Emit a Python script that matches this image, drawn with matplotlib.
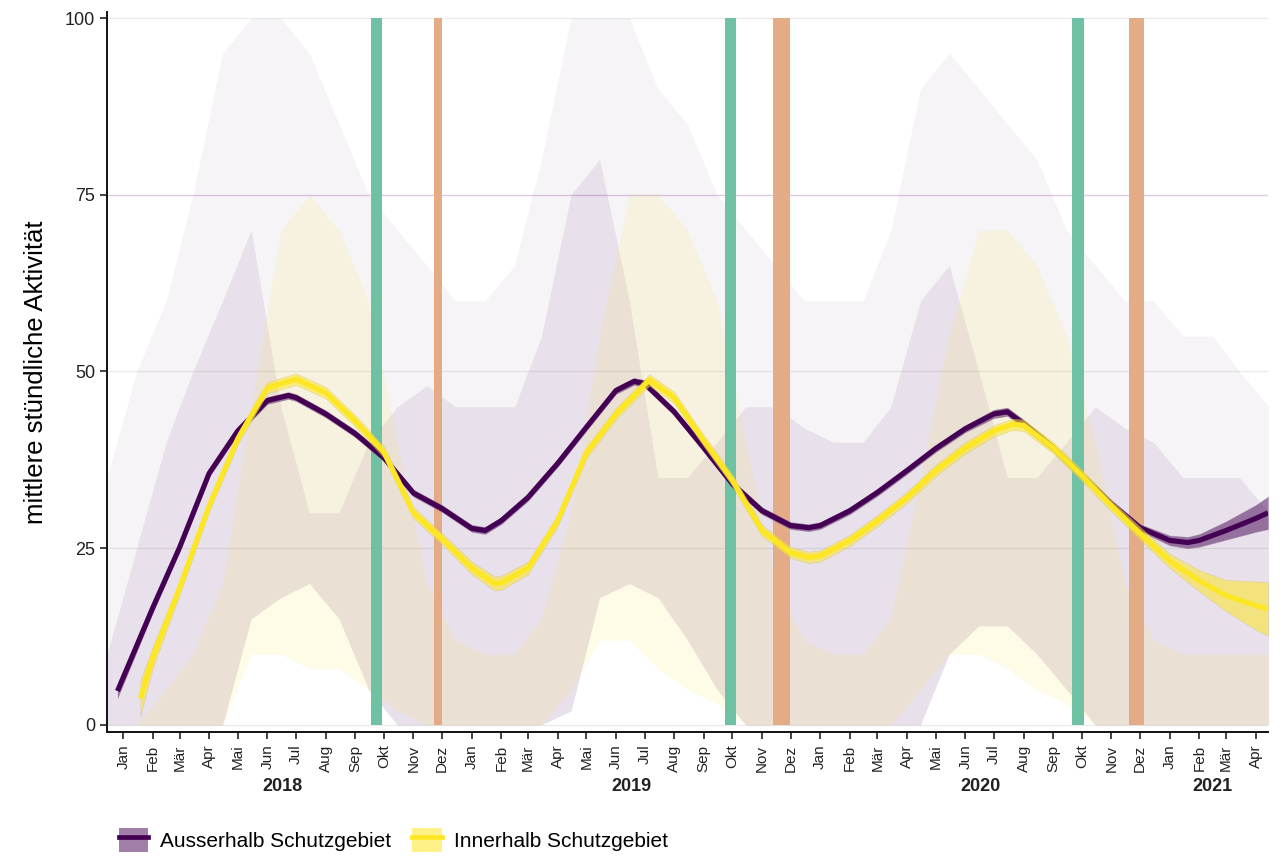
import numpy as np
import pandas as pd
import matplotlib
matplotlib.use("Agg")
import matplotlib.pyplot as plt
import matplotlib.dates as mdates
from matplotlib.patches import Patch
from matplotlib.lines import Line2D

plt.rcParams['font.family'] = ['Liberation Sans', 'DejaVu Sans']

# smoothed activity, outside the protected area
out_dates = ["2017-12-26", "2018-02-01", "2018-03-01", "2018-04-01", "2018-05-01", "2018-06-01",
             "2018-06-23", "2018-07-01", "2018-08-01", "2018-09-01", "2018-10-01", "2018-11-01",
             "2018-12-01", "2019-01-01", "2019-01-15", "2019-02-01", "2019-03-01", "2019-04-01",
             "2019-05-01", "2019-06-01", "2019-06-20", "2019-07-01", "2019-08-01", "2019-09-01",
             "2019-10-01", "2019-11-01", "2019-12-01", "2019-12-20", "2020-01-01", "2020-02-01",
             "2020-03-01", "2020-04-01", "2020-05-01", "2020-06-01", "2020-07-01", "2020-07-15",
             "2020-08-01", "2020-09-01", "2020-10-01", "2020-11-01", "2020-12-01", "2021-01-01",
             "2021-01-20", "2021-02-01", "2021-03-01", "2021-04-01", "2021-04-14"]
out_vals = [4.8, 16.6, 25.1, 35.6, 41.6, 45.9,
            46.6, 46.3, 44.0, 41.2, 37.8, 32.8,
            30.6, 27.8, 27.5, 28.9, 32.2, 37.0,
            42.1, 47.3, 48.6, 48.3, 44.3, 39.2,
            34.1, 30.3, 28.2, 27.9, 28.2, 30.3,
            32.9, 36.0, 39.1, 41.9, 44.0, 44.3,
            42.6, 39.2, 35.3, 31.3, 27.9, 26.1,
            25.8, 26.1, 27.5, 29.2, 30.0]
out_se = [1.0, 0.7, 0.6, 0.5, 0.5, 0.5,
          0.5, 0.5, 0.5, 0.5, 0.5, 0.5,
          0.5, 0.5, 0.5, 0.5, 0.5, 0.5,
          0.5, 0.5, 0.5, 0.5, 0.5, 0.5,
          0.5, 0.5, 0.5, 0.5, 0.5, 0.5,
          0.5, 0.5, 0.5, 0.5, 0.6, 0.6,
          0.6, 0.5, 0.5, 0.5, 0.5, 0.7,
          0.8, 0.9, 1.3, 1.9, 2.3]

# smoothed activity, inside the protected area
in_dates = ["2018-01-19", "2018-02-01", "2018-03-01", "2018-04-01", "2018-05-01", "2018-06-01",
            "2018-07-01", "2018-08-01", "2018-09-01", "2018-10-01", "2018-11-01", "2018-12-01",
            "2019-01-01", "2019-01-25", "2019-02-01", "2019-03-01", "2019-04-01", "2019-05-01",
            "2019-06-01", "2019-07-06", "2019-08-01", "2019-09-01", "2019-10-01", "2019-11-01",
            "2019-12-01", "2019-12-20", "2020-01-01", "2020-02-01", "2020-03-01", "2020-04-01",
            "2020-05-01", "2020-06-01", "2020-07-01", "2020-07-20", "2020-08-01", "2020-09-01",
            "2020-10-01", "2020-11-01", "2020-12-01", "2021-01-01", "2021-02-01", "2021-03-01",
            "2021-04-01", "2021-04-14"]
in_vals = [3.8, 9.6, 19.4, 31.0, 40.5, 47.7,
           48.9, 47.0, 43.0, 38.6, 30.0, 26.3,
           22.2, 20.0, 20.1, 22.2, 28.9, 38.5,
           44.0, 48.8, 46.3, 40.2, 34.6, 27.5,
           24.4, 23.7, 23.9, 26.1, 28.9, 32.2,
           36.0, 39.2, 41.6, 42.5, 42.4, 39.2,
           35.3, 31.0, 27.1, 23.2, 20.4, 18.3,
           16.9, 16.4]
in_se = [2.5, 1.5, 1.0, 0.8, 0.8, 0.8,
         0.8, 0.8, 0.8, 0.8, 0.8, 0.8,
         0.9, 1.0, 1.0, 0.9, 0.8, 0.8,
         0.8, 0.8, 0.8, 0.8, 0.8, 0.8,
         0.8, 0.8, 0.8, 0.8, 0.8, 0.8,
         0.8, 0.8, 0.8, 0.8, 0.8, 0.8,
         0.8, 0.8, 0.9, 1.0, 1.5, 2.2,
         3.4, 3.8]

# rough extent of the hourly point clouds, one value per month (mid-month)
cloud_months = pd.date_range("2017-12-01", "2021-04-01", freq="MS") + pd.Timedelta(days=14)
purple_lo = [0, 0, 0, 0, 0, 15, 18, 20, 15, 5, 0, 0, 0,
             0, 0, 0, 2, 18, 20, 18, 12, 5, 0, 0, 0,
             0, 0, 0, 0, 10, 14, 14, 10, 5, 0, 0, 0,
             0, 0, 0, 0]
purple_hi = [10, 25, 40, 50, 60, 70, 45, 30, 30, 40, 45, 48, 45,
             45, 45, 55, 75, 80, 60, 35, 35, 40, 45, 45, 42,
             40, 40, 45, 60, 65, 50, 35, 35, 40, 45, 42, 40,
             35, 35, 35, 30]
purple_top = [35, 50, 60, 75, 95, 100, 100, 95, 85, 75, 70, 65, 60,
              60, 65, 80, 100, 100, 100, 90, 85, 75, 70, 65, 60,
              60, 60, 70, 90, 95, 90, 85, 80, 70, 65, 60, 60,
              55, 55, 50, 45]
yellow_lo = [0, 0, 0, 0, 0, 10, 10, 8, 8, 5, 2, 0, 0,
             0, 0, 0, 5, 12, 12, 8, 5, 3, 0, 0, 0,
             0, 0, 0, 5, 10, 10, 8, 5, 3, 0, 0, 0,
             0, 0, 0, 0]
yellow_hi = [0, 0, 5, 10, 20, 45, 70, 75, 70, 60, 40, 20, 12,
             10, 10, 15, 30, 55, 75, 75, 70, 60, 40, 20, 12,
             10, 10, 15, 35, 55, 70, 70, 65, 55, 40, 20, 12,
             10, 10, 10, 10]

# hunting periods (green) and driven hunts (orange)
green_start = ["2018-09-17", "2019-09-23", "2020-09-21"]
green_end = ["2018-09-29", "2019-10-05", "2020-10-03"]
orange_start = ["2018-11-23", "2019-11-13", "2020-11-19"]
orange_end = ["2018-12-01", "2019-11-30", "2020-12-05"]

month_names = ["Jan", "Feb", "Mär", "Apr", "Mai", "Jun", "Jul", "Aug", "Sep", "Okt", "Nov", "Dez"]
labels = ["Ausserhalb Schutzgebiet", "Innerhalb Schutzgebiet"]

purple = "#440154"
yellow = "#FDE725"

fig = plt.figure(figsize=(12.84, 8.56), dpi=100)
ax = fig.add_axes([107 / 1284, 124 / 856, 1161 / 1284, 720 / 856])

# grid
for g in [0, 25, 50, 100]:
    ax.axhline(g, color="#ebebeb", lw=0.9, zorder=0)
ax.axhline(75, color="#dccbe4", lw=1.0, zorder=0)

# point clouds
cm = cloud_months
ax.fill_between(cm, purple_lo, purple_top, color=purple, alpha=0.045, lw=0, zorder=1)
ax.fill_between(cm, purple_lo, purple_hi, color=purple, alpha=0.08, lw=0, zorder=1)
ax.fill_between(cm, yellow_lo, yellow_hi, color=yellow, alpha=0.11, lw=0, zorder=1)

# period bars
for s, e in zip(green_start, green_end):
    ax.fill_between(pd.to_datetime([s, e]), 0, 100, color="#6fc1a3", lw=0, zorder=2)
for s, e in zip(orange_start, orange_end):
    ax.fill_between(pd.to_datetime([s, e]), 0, 100, color="#e3ab86", lw=0, zorder=2)

# smooths
od = pd.to_datetime(out_dates)
ov = np.array(out_vals)
ose = np.array(out_se)
idt = pd.to_datetime(in_dates)
iv = np.array(in_vals)
ise = np.array(in_se)
ax.fill_between(od, ov - ose, ov + ose, color=purple, alpha=0.5, lw=0.4, edgecolor="#9a8aa0", zorder=3)
ax.plot(od, ov, color=purple, lw=3.7, solid_capstyle="butt", solid_joinstyle="round", zorder=4)
ax.fill_between(idt, iv - ise, iv + ise, color=yellow, alpha=0.55, lw=0.4, edgecolor="#c9c08a", zorder=5)
ax.plot(idt, iv, color=yellow, lw=3.7, solid_capstyle="butt", solid_joinstyle="round", zorder=6)

# axes
ax.set_xlim(pd.Timestamp("2017-12-15"), pd.Timestamp("2021-04-14"))
ax.set_ylim(-1.0, 100.85)
ax.set_yticks([0, 25, 50, 75, 100])
ax.set_yticklabels(["0", "25", "50", "75", "100"], fontsize=13, color="#222222")
ticks = pd.date_range("2018-01-01", "2021-04-01", freq="MS")
ax.set_xticks(ticks)
ax.set_xticklabels([month_names[t.month - 1] for t in ticks], rotation=90, fontsize=11, color="#222222")
ax.tick_params(axis="both", length=5, width=1.2, color="#222222")
ax.tick_params(axis="x", pad=4)
for sp in ["top", "right"]:
    ax.spines[sp].set_visible(False)
for sp in ["left", "bottom"]:
    ax.spines[sp].set_linewidth(1.4)
    ax.spines[sp].set_color("#111111")
ax.set_ylabel("mittlere stündliche Aktivität", fontsize=18.5, labelpad=12)

# year labels centred under the month ticks of each year
trans = matplotlib.transforms.blended_transform_factory(ax.transData, ax.transAxes)
for yr in [2018, 2019, 2020, 2021]:
    yt = ticks[ticks.year == yr]
    mid = yt[0] + (yt[-1] - yt[0]) / 2
    ax.text(mdates.date2num(mid), -0.076, str(yr), transform=trans, ha="center", va="center",
            fontsize=13, fontweight="bold", color="#222222")

handles = [(Patch(facecolor=purple, alpha=0.5, edgecolor="none"), Line2D([], [], color=purple, lw=3.4)),
           (Patch(facecolor=yellow, alpha=0.55, edgecolor="none"), Line2D([], [], color=yellow, lw=3.4))]
fig.legend(handles, labels, loc="center left", bbox_to_anchor=(100 / 1284, 16 / 856), ncol=2,
           frameon=False, fontsize=15, handlelength=1.4, handleheight=1.4, columnspacing=1.0,
           handletextpad=0.6)

fig.savefig("out.png", dpi=100)
